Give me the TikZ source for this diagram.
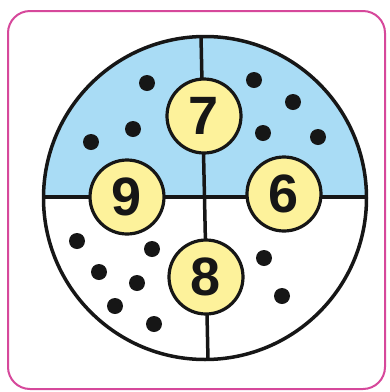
\documentclass[tikz,border=0pt]{standalone}
\usepackage{fontspec}
\setmainfont{Liberation Sans}
\definecolor{framepink}{HTML}{D6489B}
\definecolor{skyfill}{HTML}{A9DCF5}
\definecolor{numfill}{HTML}{FDF29B}
\definecolor{inkline}{HTML}{161616}

\begin{document}
\begin{tikzpicture}[x=1pt,y=-1pt,line join=round,
  numball/.style={circle,draw=inkline,line width=3.2pt,fill=numfill,minimum size=74pt,inner sep=0pt,font=\fontsize{54}{54}\selectfont\bfseries,text=inkline},
  part/.style={draw=inkline,line width=3.5pt},
  dot/.style={fill=inkline}]
\useasboundingbox (0,0) rectangle (390,392);
\draw[framepink,line width=2pt,rounded corners=22pt] (8,11) rectangle (385,389);
\coordinate (c) at (205,198);
\coordinate (top) at (201,36);
\coordinate (bot) at (208,360);
\coordinate (west) at (43,197);
\coordinate (east) at (367,197);
% upper half in blue
\begin{scope}
\clip (c) circle[radius=161.5pt];
\fill[skyfill] (30,20) rectangle (380,197);
\end{scope}
\draw[part] (top) -- (bot);
\draw[part] (west) -- (east);
\draw[part] (c) circle[radius=161.5pt];
% dots
\fill[dot] (147,83) circle[radius=8pt];
\fill[dot] (133,129) circle[radius=8pt];
\fill[dot] (91,142) circle[radius=8pt];
\fill[dot] (254,80) circle[radius=8pt];
\fill[dot] (293,102) circle[radius=8pt];
\fill[dot] (263,133) circle[radius=8pt];
\fill[dot] (318,137) circle[radius=8pt];
\fill[dot] (77,241) circle[radius=8pt];
\fill[dot] (152,249) circle[radius=8pt];
\fill[dot] (99,272) circle[radius=8pt];
\fill[dot] (137,283) circle[radius=8pt];
\fill[dot] (115,306) circle[radius=8pt];
\fill[dot] (154,324) circle[radius=8pt];
\fill[dot] (264,258) circle[radius=8pt];
\fill[dot] (282,296) circle[radius=8pt];
% number balls
\node[numball] (n7) at (204,116) {7};
\node[numball] (n9) at (127,197) {9};
\node[numball] (n6) at (284,194) {6};
\node[numball] (n8) at (206,277) {8};
\end{tikzpicture}
\end{document}
